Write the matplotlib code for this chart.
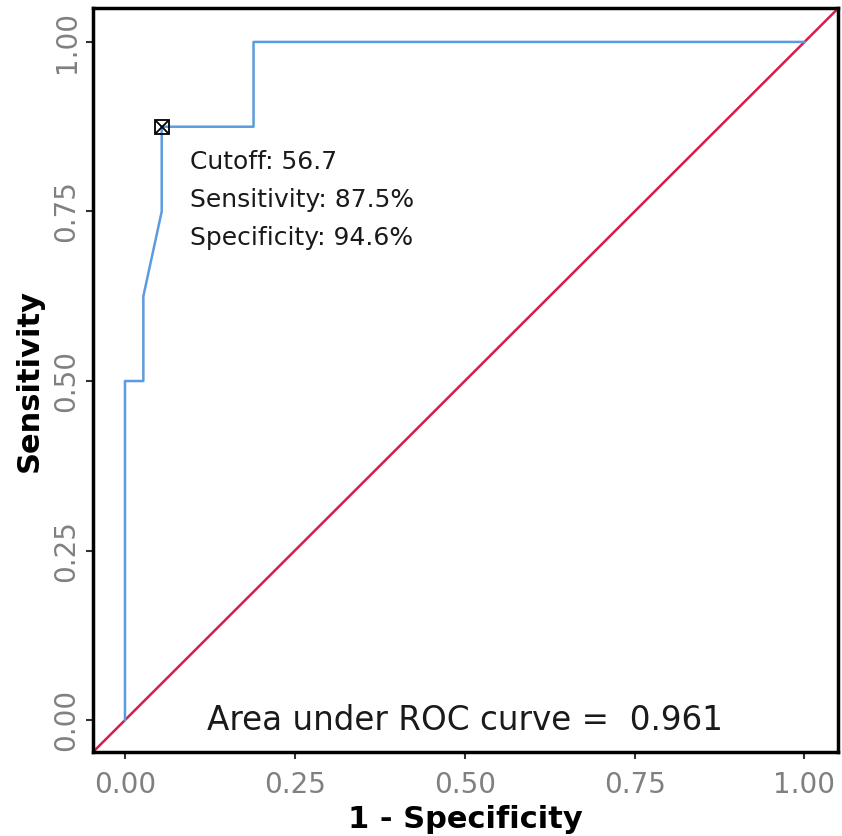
import matplotlib
matplotlib.use("Agg")
import matplotlib.pyplot as plt

# ROC points (1 - specificity, sensitivity)
fpr = [0, 0, 1/37, 1/37, 2/37, 2/37, 7/37, 7/37, 1]
tpr = [0, 0.5, 0.5, 0.625, 0.75, 0.875, 0.875, 1.0, 1.0]
best_fpr = 2/37
best_tpr = 0.875
cutoff = 56.7
auc = 0.961
ticks = [0.00, 0.25, 0.50, 0.75, 1.00]
tick_labels = ["0.00", "0.25", "0.50", "0.75", "1.00"]

fig = plt.figure(figsize=(8.42, 8.36), dpi=100)
ax = fig.add_axes([0.1105, 0.1005, 0.8845, 0.8899])

ax.axline((0, 0), (1, 1), color="#d81b4a", lw=1.8, zorder=2)
ax.plot(fpr, tpr, color="#5b9bdf", lw=1.8, zorder=3)
ax.plot([best_fpr], [best_tpr], marker="s", ms=10, mfc="none", mec="black", mew=1.3, zorder=4)
ax.plot([best_fpr], [best_tpr], marker="x", ms=8, mec="black", mew=1.3, zorder=4)

ax.text(0.096, 0.823, f"Cutoff: {cutoff}", fontsize=18, va="center", ha="left", color="#1a1a1a")
ax.text(0.096, 0.767, f"Sensitivity: {best_tpr*100:.1f}%", fontsize=18, va="center", ha="left", color="#1a1a1a")
ax.text(0.096, 0.711, f"Specificity: {(1-best_fpr)*100:.1f}%", fontsize=18, va="center", ha="left", color="#1a1a1a")
ax.text(0.5, 0.0, f"Area under ROC curve =  {auc}", fontsize=23.5, va="center", ha="center", color="#1a1a1a")

ax.set_xlim(-0.047, 1.049)
ax.set_ylim(-0.047, 1.05)
ax.set_xticks(ticks)
ax.set_xticklabels(tick_labels)
ax.set_yticks(ticks)
ax.set_yticklabels(tick_labels, rotation=90, va="center")
ax.tick_params(axis="both", labelsize=20, labelcolor="#808080", color="#333333", width=1.5, length=5)
ax.tick_params(axis="x", pad=9)
ax.tick_params(axis="y", pad=4)

for s in ax.spines.values():
    s.set_linewidth(2.5)
    s.set_color("black")

ax.set_xlabel("1 - Specificity", fontsize=22, fontweight="bold", labelpad=4)
ax.set_ylabel("Sensitivity", fontsize=22, fontweight="bold", labelpad=6)

fig.savefig("out.png", dpi=100)
